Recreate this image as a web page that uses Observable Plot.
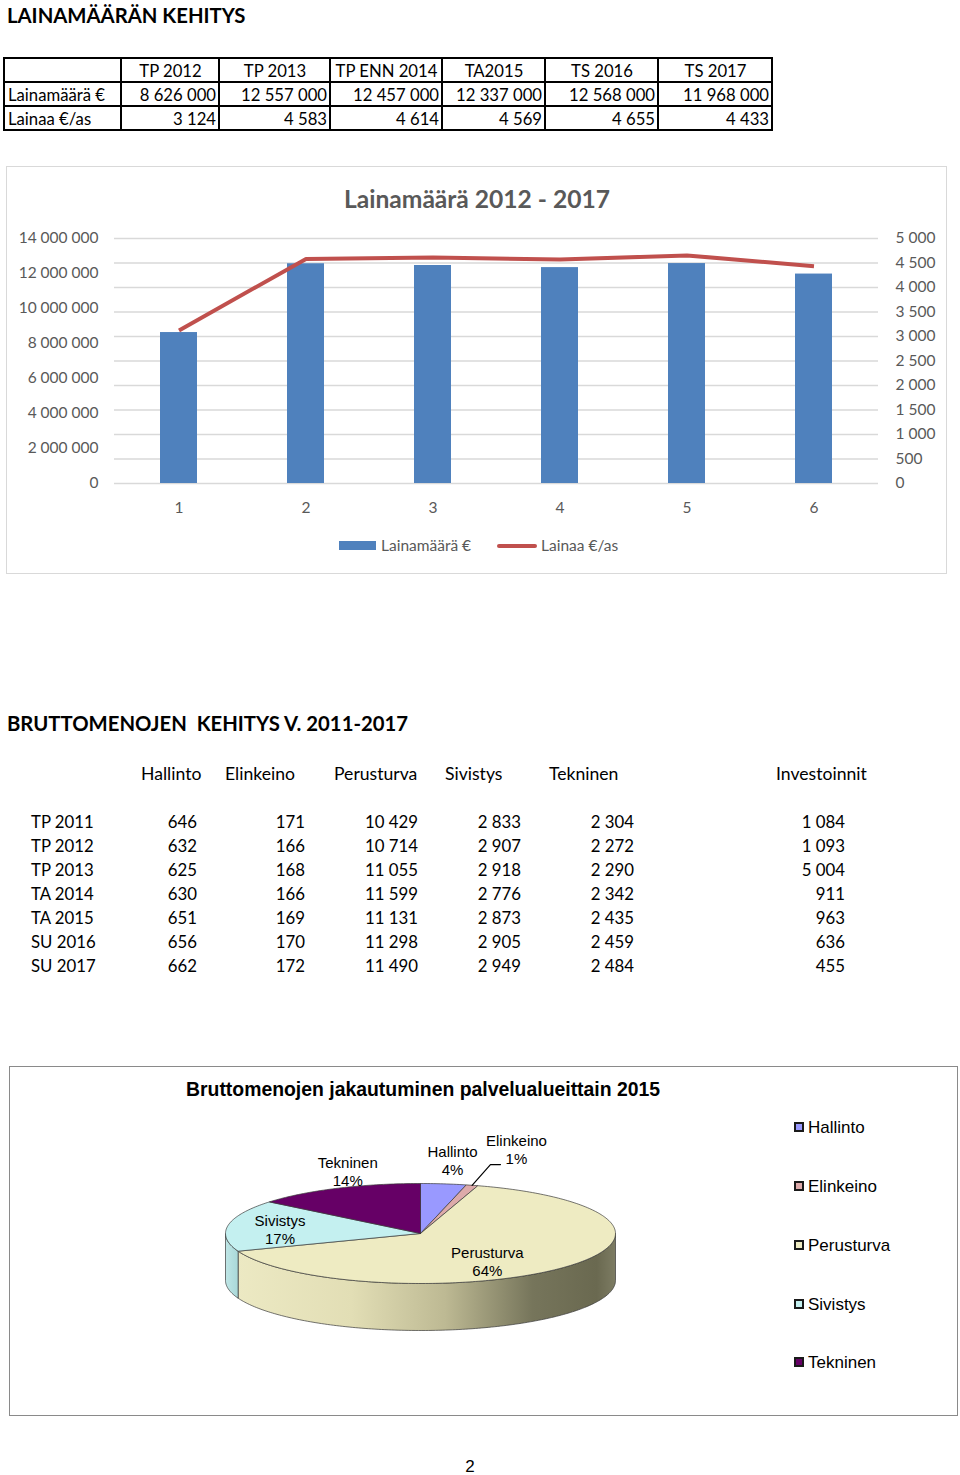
<!DOCTYPE html>
<html><head><meta charset="utf-8"><title>Lainamäärän kehitys</title>
<script src="https://cdn.jsdelivr.net/npm/d3@7"></script>
<script src="https://cdn.jsdelivr.net/npm/@observablehq/plot@0.6"></script>
<style>
html,body{margin:0;padding:0;background:#fff;}
#page{position:relative;width:960px;height:1475px;overflow:hidden;font-family:Lato,"Open Sans",sans-serif;color:#000;}
.a{position:absolute;white-space:pre;line-height:1;}
.cell{position:absolute;box-sizing:border-box;border:2px solid #000;display:flex;align-items:center;padding:0 2px 0 3px;font-size:16.7px;white-space:pre;}
svg{overflow:visible;}
</style></head><body><div id="page"></div>
<script>
// ---------- DATA ----------
const loanYears = ["TP 2012", "TP 2013", "TP ENN 2014", "TA2015", "TS 2016", "TS 2017"];
const loanRowLabels = ["Lainamäärä €", "Lainaa €/as"];
const loanAmount = [8626000, 12557000, 12457000, 12337000, 12568000, 11968000];
const loanPerCapita = [3124, 4583, 4614, 4569, 4655, 4433];
const chartCategories = [1, 2, 3, 4, 5, 6];
const leftTicks = [0, 2000000, 4000000, 6000000, 8000000, 10000000, 12000000, 14000000];
const rightTicks = [0, 500, 1000, 1500, 2000, 2500, 3000, 3500, 4000, 4500, 5000];

const expenseYears = ["TP 2011", "TP 2012", "TP 2013", "TA 2014", "TA 2015", "SU 2016", "SU 2017"];
const sectors = ["Hallinto", "Elinkeino", "Perusturva", "Sivistys", "Tekninen"];
const hallinto = [646, 632, 625, 630, 651, 656, 662];
const elinkeino = [171, 166, 168, 166, 169, 170, 172];
const perusturva = [10429, 10714, 11055, 11599, 11131, 11298, 11490];
const sivistys = [2833, 2907, 2918, 2776, 2873, 2905, 2949];
const tekninen = [2304, 2272, 2290, 2342, 2435, 2459, 2484];
const investoinnit = [1084, 1093, 5004, 911, 963, 636, 455];
const pieYear = "TA 2015";
const pieColors = ["#9999FF", "#DDAAAA", "#EEEBC2", "#C4F0F0", "#660066"];

// ---------- helpers ----------
const page = document.getElementById("page");
const fmt = d => d3.format(",")(d).replace(/,/g, "\u00a0");
function txt(s, x, y, style = {}, align = "left") {
  const d = document.createElement("div");
  d.className = "a"; d.textContent = s;
  const tx = align === "center" ? "-50%" : align === "right" ? "-100%" : "0";
  d.style.left = x + "px"; d.style.top = y + "px";
  d.style.transform = `translate(${tx},-50%)`;
  Object.assign(d.style, style);
  page.appendChild(d); return d;
}
function box(x, y, w, h, style) {
  const d = document.createElement("div");
  d.style.position = "absolute"; d.style.left = x + "px"; d.style.top = y + "px";
  d.style.width = w + "px"; d.style.height = h + "px"; d.style.boxSizing = "border-box";
  Object.assign(d.style, style); page.appendChild(d); return d;
}
function place(node, x, y) {
  node.style.position = "absolute"; node.style.left = x + "px"; node.style.top = y + "px";
  page.appendChild(node);
}

// ---------- heading 1 + loan table ----------
txt("LAINAMÄÄRÄN KEHITYS", 7, 15, {fontWeight: 700, fontSize: "20.3px"});

const t1Cols = [4, 121, 219, 330, 442, 545, 658, 772];
const t1Rows = [58, 82, 106, 130];
const t1 = [["", ...loanYears], [loanRowLabels[0], ...loanAmount.map(fmt)], [loanRowLabels[1], ...loanPerCapita.map(fmt)]];
t1.forEach((row, r) => row.forEach((v, c) => {
  const d = box(t1Cols[c] - 1, t1Rows[r] - 1, t1Cols[c + 1] - t1Cols[c] + 2, t1Rows[r + 1] - t1Rows[r] + 2, {});
  d.className = "cell";
  d.style.justifyContent = r === 0 ? "center" : c === 0 ? "flex-start" : "flex-end";
  d.style.paddingTop = "1px";
  d.textContent = v;
}));

// ---------- combo chart ----------
const bx = 6, by = 166, bw = 941, bh = 408;
box(bx, by, bw, bh, {border: "1px solid #d9d9d9"});
txt("Lainamäärä 2012 - 2017", 477, 199, {fontWeight: 700, fontSize: "24.6px", color: "#595959"}, "center");

const k = leftTicks[leftTicks.length - 1] / rightTicks[rightTicks.length - 1];
const loanRows = chartCategories.map((c, i) => ({c, amount: loanAmount[i], perCap: loanPerCapita[i]}));
const chart = Plot.plot({
  width: bw, height: bh,
  marginTop: 72, marginBottom: 91, marginLeft: 108, marginRight: 69,
  style: {fontFamily: "Lato, sans-serif", fontSize: "15.5px", color: "#595959", background: "transparent"},
  x: {type: "band", domain: chartCategories, paddingInner: 0.71, paddingOuter: 0.355, label: null},
  y: {domain: [0, leftTicks[leftTicks.length - 1]], label: null},
  marks: [
    Plot.gridY(rightTicks.map(t => t * k), {stroke: "#d9d9d9", strokeOpacity: 1, strokeWidth: 1.3}),
    Plot.axisY(leftTicks, {anchor: "left", tickSize: 0, tickPadding: 16, tickFormat: fmt, label: null}),
    Plot.axisY(rightTicks.map(t => t * k), {anchor: "right", tickSize: 0, tickPadding: 17, tickFormat: d => fmt(Math.round(d / k)), label: null}),
    Plot.axisX({tickSize: 0, tickPadding: 18, label: null}),
    Plot.barY(loanRows, {x: "c", y: "amount", fill: "#4F81BD"}),
    Plot.line(loanRows, {x: "c", y: d => d.perCap * k, stroke: "#C0504D", strokeWidth: 4, strokeLinecap: "butt"})
  ]
});
place(chart, bx, by);

// legend
box(339, 541, 37, 9, {background: "#4F81BD"});
txt("Lainamäärä €", 381, 545.5, {fontSize: "15.5px", color: "#595959"});
box(497, 543.5, 40, 4, {background: "#C0504D", borderRadius: "2px"});
txt("Lainaa €/as", 541, 545.5, {fontSize: "15.5px", color: "#595959"});

// ---------- heading 2 + expense table ----------
txt("BRUTTOMENOJEN  KEHITYS V. 2011-2017", 7, 723, {fontWeight: 700, fontSize: "20.3px"});
const t2Series = [hallinto, elinkeino, perusturva, sivistys, tekninen, investoinnit];
const t2Headers = [...sectors, "Investoinnit"];
const t2HeaderLeft = [141, 225, 334, 445, 549, 776];
const t2NumRight = [197, 305, 418, 521, 634, 845];
const tStyle = {fontSize: "16.8px"};
t2Headers.forEach((h, j) => txt(h, t2HeaderLeft[j], 774, {fontSize: "17.6px"}));
expenseYears.forEach((yr, i) => {
  const yy = 822 + 24 * i;
  txt(yr, 31, yy, tStyle);
  t2Series.forEach((s, j) => txt(fmt(s[i]), t2NumRight[j], yy, tStyle, "right"));
});

// ---------- 3D pie ----------
const px = 10, py = 1067, pw = 948, ph = 349;
box(px - 1, py - 1, pw + 1, ph + 1, {border: "1.5px solid #8a8a8a"});
txt("Bruttomenojen jakautuminen palvelualueittain 2015", 186, 1090, {fontFamily: "'Liberation Sans', Arial, sans-serif", fontWeight: 700, fontSize: "19.4px"});

const yi = expenseYears.indexOf(pieYear);
const pieData = sectors.map((s, i) => ({name: s, value: [hallinto, elinkeino, perusturva, sivistys, tekninen][i][yi], color: pieColors[i]}));
const total = d3.sum(pieData, d => d.value);
const arcs = d3.pie().sort(null).value(d => d.value)(pieData);
const G = {cx: 410, cy: 166, rx: 195, ry: 50, depth: 47};
const P = (a, f = 1, dy = 0) => ({x: G.cx + G.rx * f * Math.sin(a), y: G.cy - G.ry * f * Math.cos(a) + dy});
function arcPts(a0, a1, dy = 0) {
  const n = Math.max(2, Math.ceil((a1 - a0) / (Math.PI / 180)));
  return d3.range(n + 1).map(i => P(a0 + (a1 - a0) * i / n, 1, dy));
}
const tops = arcs.map(a => ({name: a.data.name, color: a.data.color,
  pts: [{x: G.cx, y: G.cy}, ...arcPts(a.startAngle, a.endAngle), {x: G.cx, y: G.cy}]}));
const sides = arcs.map(a => {
  const lo = Math.max(a.startAngle, Math.PI / 2), hi = Math.min(a.endAngle, 3 * Math.PI / 2);
  if (lo >= hi) return null;
  const top = arcPts(lo, hi, 0), bot = arcPts(lo, hi, G.depth).reverse();
  return {name: a.data.name, pts: [...top, ...bot, top[0]]};
}).filter(Boolean);
const sideFill = {Perusturva: "url(#sideGradP)", Sivistys: "url(#sideGradS)"};

// label placement factors (relative to slice mid-angle on the ellipse)
const labelFactor = {Hallinto: [1.39, 1.47], Elinkeino: [1.86, 1.74], Perusturva: [0.47, 0.82], Sivistys: [0.73, 0.49], Tekninen: [0.87, 1.37]};
const labels = arcs.map(a => {
  const mid = (a.startAngle + a.endAngle) / 2;
  const [fx, fy] = labelFactor[a.data.name];
  return {name: a.data.name, share: a.data.value / total, mid,
    x: G.cx + G.rx * fx * Math.sin(mid), y: G.cy - G.ry * fy * Math.cos(mid),
    text: a.data.name + "\n" + Math.round(a.data.value / total * 100) + "%"};
});
const leaders = labels.filter(l => l.share < 0.02).map(l => [P(l.mid, 1), {x: l.x - 26, y: l.y + 15}, {x: l.x - 16, y: l.y + 15}]);

const defsMark = () => {
  const ns = "http://www.w3.org/2000/svg";
  const defs = document.createElementNS(ns, "defs");
  defs.innerHTML = `<linearGradient id="sideGradP" x1="0" x2="1" y1="0" y2="0">
      <stop offset="0" stop-color="#ECE9C3"/><stop offset="0.3" stop-color="#E2DEB5"/>
      <stop offset="0.55" stop-color="#BDB993"/><stop offset="0.78" stop-color="#76755B"/>
      <stop offset="0.95" stop-color="#6A6950"/><stop offset="1" stop-color="#7D7C63"/></linearGradient>
    <linearGradient id="sideGradS" x1="0" x2="1" y1="0" y2="0">
      <stop offset="0" stop-color="#BFE6E6"/><stop offset="1" stop-color="#A9D8D8"/></linearGradient>`;
  return defs;
};

const pie = Plot.plot({
  width: pw, height: ph, margin: 0,
  style: {fontFamily: "'Liberation Sans', Arial, sans-serif", fontSize: "15px", color: "#000", background: "transparent"},
  x: {domain: [0, pw], range: [0, pw], axis: null},
  y: {domain: [0, ph], range: [0, ph], axis: null},
  marks: [
    defsMark,
    ...sides.map(s => Plot.line(s.pts, {x: "x", y: "y", fill: sideFill[s.name] || "#ccc", stroke: "#3a3a3a", strokeWidth: 0.7, strokeLinejoin: "round"})),
    ...tops.map(t => Plot.line(t.pts, {x: "x", y: "y", fill: t.color, stroke: "#3a3a3a", strokeWidth: 0.7, strokeLinejoin: "round"})),
    ...leaders.map(l => Plot.line(l, {x: "x", y: "y", stroke: "#000", strokeWidth: 1.2})),
    Plot.text(labels, {x: "x", y: "y", text: "text", lineHeight: 1.2, fill: "#000", fontSize: 15})
  ]
});
place(pie, px, py);

// pie legend
const legY = [1127, 1186, 1245, 1304, 1362];
sectors.forEach((s, i) => {
  box(794, legY[i] - 5, 10, 10, {background: pieColors[i], border: "2px solid #1a1a1a"});
  txt(s, 808, legY[i], {fontFamily: "'Liberation Sans', Arial, sans-serif", fontSize: "17px"});
});

// page number
txt("2", 470, 1466, {fontFamily: "'Liberation Sans', Arial, sans-serif", fontSize: "17px"}, "center");
</script></body></html>
